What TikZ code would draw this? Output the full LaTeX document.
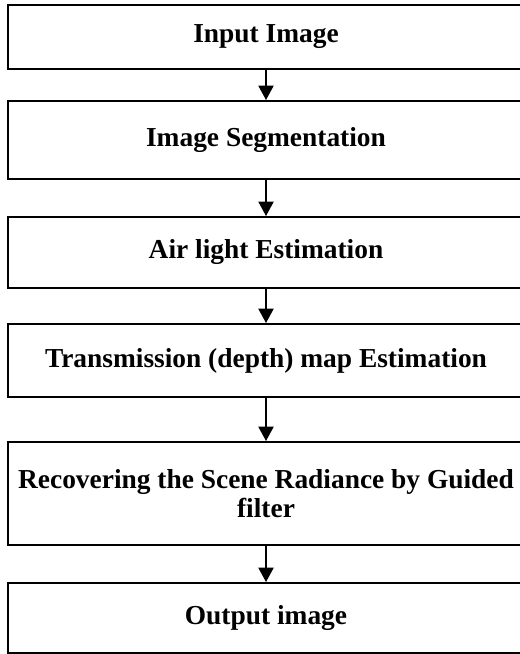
\documentclass[tikz,border=0pt]{standalone}
\usepackage{fontspec}
\setmainfont{Liberation Serif}
\usepackage{tikz}
\usetikzlibrary{arrows.meta,positioning}

\begin{document}
\begin{tikzpicture}[
    font=\fontsize{19.5}{20.5}\selectfont\bfseries,
    >=Latex,
    block/.style={draw, line width=1.4pt, align=center, minimum width=12.9cm, inner sep=3pt},
    line/.style={-{Triangle[width=0.38cm,length=0.36cm]}, line width=1.1pt}
]
\useasboundingbox (0,0) rectangle (13,-16.35);
\clip (0,0) rectangle (13,-16.35);
\node[block, minimum height=1.6cm]   (input) at (6.65,-0.925)   {Input Image};
\node[block, minimum height=1.95cm]  (seg)   at (6.65,-3.5)     {Image Segmentation};
\node[block, minimum height=1.775cm] (air)   at (6.65,-6.3125)  {Air light Estimation};
\node[block, minimum height=1.825cm] (trans) at (6.65,-9.0125)  {Transmission (depth) map Estimation};
\node[block, minimum height=2.575cm] (rec)   at (6.65,-12.3375) {Recovering the Scene Radiance by Guided\\filter};
\node[block, minimum height=1.75cm]  (out)   at (6.65,-15.45)   {Output image};
\draw[line] (input) -- (seg);
\draw[line] (seg) -- (air);
\draw[line] (air) -- (trans);
\draw[line] (trans) -- (rec);
\draw[line] (rec) -- (out);
\end{tikzpicture}
\end{document}
